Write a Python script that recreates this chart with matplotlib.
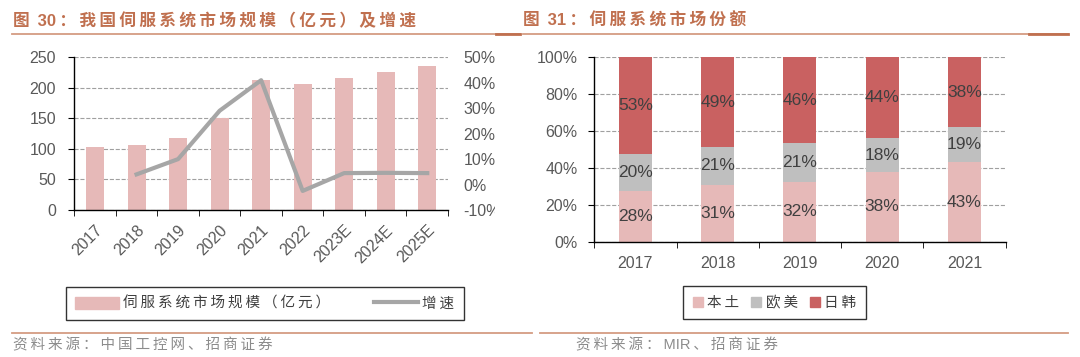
import numpy as np
import matplotlib
matplotlib.use('Agg')
import matplotlib.pyplot as plt
from matplotlib.lines import Line2D
from matplotlib.patches import Patch
from matplotlib.transforms import Bbox

plt.rcParams['font.family'] = ['Liberation Sans', 'Noto Sans CJK SC', 'DejaVu Sans']

# left chart: market size (100m CNY) and growth
years_left = ['2017', '2018', '2019', '2020', '2021', '2022', '2023E', '2024E', '2025E']
market_size = [103, 107, 118, 150, 213, 207, 216, 226, 236]
growth = [None, 0.04, 0.10, 0.29, 0.41, -0.025, 0.045, 0.046, 0.045]

# right chart: market share
years_right = ['2017', '2018', '2019', '2020', '2021']
share_local = [28, 31, 32, 38, 43]
share_west = [20, 21, 21, 18, 19]
share_jpkr = [53, 49, 46, 44, 38]

PINK = '#e6b9b8'
GREY = '#bfbfbf'
RED = '#c96161'
LINE = '#a6a6a6'
TXT = '#595959'
TITLE = '#c0704f'
RULE = '#d49c82'
TS = 11.5  # tick label size


def spaced(s):
    # the report sets CJK text with a little extra tracking
    out = ''
    for i, ch in enumerate(s):
        out += ch
        if i < len(s) - 1 and (ord(ch) > 127 or ord(s[i + 1]) > 127) and ch != ' ':
            out += '\u2009'
    return out


def style_axis(ax, n, ypad):
    ax.spines['top'].set_visible(False)
    ax.spines['right'].set_visible(False)
    ax.set_xlim(-0.5, n - 0.5)
    ax.set_xticks(np.arange(n))
    ax.set_xticks(np.arange(n + 1) - 0.5, minor=True)
    ax.tick_params(axis='x', which='major', length=0, colors=TXT, labelsize=TS)
    ax.tick_params(axis='x', which='minor', length=4, direction='out', color='black')
    ax.tick_params(axis='y', length=4, direction='out', color='black',
                   labelcolor=TXT, labelsize=TS, pad=ypad)
    ax.grid(axis='y', linestyle='--', color='#a0a0a0', linewidth=0.8)
    ax.set_axisbelow(True)
    for s in ('left', 'bottom'):
        ax.spines[s].set_color('black')
        ax.spines[s].set_linewidth(1.0)


fig = plt.figure(figsize=(10.8, 3.57), dpi=100)
W, H = 1080, 357

# ---- left chart ----
ax1 = fig.add_axes([74.3 / W, 1 - 210 / H, (448 - 74.3) / W, (210 - 57.3) / H])
x1 = np.arange(len(years_left))
ax1.bar(x1, market_size, width=0.43, color=PINK, zorder=2)
style_axis(ax1, len(years_left), 9)
ax1.set_ylim(0, 250)
ax1.set_yticks(range(0, 251, 50))
ax1.set_xticklabels(years_left, rotation=45, ha='right', va='top', rotation_mode='anchor')
ax1.tick_params(axis='x', which='major', pad=9)

ax2 = ax1.twinx()
gx = [i for i, g in enumerate(growth) if g is not None]
gy = [g for g in growth if g is not None]
ax2.plot(gx, gy, color=LINE, linewidth=3, zorder=3)
ax2.set_ylim(-0.1, 0.5)
ax2.set_yticks(np.arange(-0.1, 0.51, 0.1))
ax2.set_yticklabels(['-10%', '0%', '10%', '20%', '30%', '40%', '50%'])
for s in ('top', 'right', 'left', 'bottom'):
    ax2.spines[s].set_visible(False)
ax2.tick_params(axis='y', length=0, pad=11, labelcolor=TXT, labelsize=TS)
clip = Bbox.from_extents(0, 0, 495, H)
for lab in ax2.get_yticklabels():
    lab.set_clip_on(True)
    lab.set_clip_box(clip)

leg1 = fig.legend(
    handles=[Patch(color=PINK, label=spaced('伺服系统市场规模（亿元）')),
             Line2D([], [], color=LINE, linewidth=3, label=spaced('增速'))],
    loc='center', bbox_to_anchor=(265 / W, 1 - 303.7 / H), ncol=2,
    frameon=True, fancybox=False, edgecolor='black', fontsize=10.5,
    handlelength=3.0, handleheight=0.9, columnspacing=3.0, borderpad=0.65,
    handletextpad=0.3)
leg1.get_frame().set_linewidth(1.0)
for t in leg1.get_texts():
    t.set_color('#404040')

# ---- right chart ----
ax3 = fig.add_axes([594.3 / W, 1 - 241.7 / H, (1005.6 - 594.3) / W, (241.7 - 57.3) / H])
x3 = np.arange(len(years_right))
local = np.array(share_local, dtype=float)
west = np.array(share_west, dtype=float)
jpkr = np.array(share_jpkr, dtype=float)
total = local + west + jpkr
p_local = local / total
p_west = west / total
p_jpkr = jpkr / total
ax3.bar(x3, p_local, width=0.4, color=PINK, zorder=2)
ax3.bar(x3, p_west, width=0.4, bottom=p_local, color=GREY, zorder=2)
ax3.bar(x3, p_jpkr, width=0.4, bottom=p_local + p_west, color=RED, zorder=2)
style_axis(ax3, len(years_right), 8)
ax3.set_ylim(0, 1)
ax3.set_yticks(np.arange(0, 1.01, 0.2))
ax3.set_yticklabels(['0%', '20%', '40%', '60%', '80%', '100%'])
ax3.set_xticklabels(years_right)
ax3.tick_params(axis='x', which='major', pad=10)

for i in range(len(years_right)):
    bottoms = [0, p_local[i], p_local[i] + p_west[i]]
    heights = [p_local[i], p_west[i], p_jpkr[i]]
    vals = [share_local[i], share_west[i], share_jpkr[i]]
    for b, h, v in zip(bottoms, heights, vals):
        ax3.text(i, b + h / 2, f'{v}%', ha='center', va='center',
                 fontsize=12.5, color='#404040', zorder=4)

leg2 = fig.legend(
    handles=[Patch(color=PINK, label=spaced('本土')), Patch(color=GREY, label=spaced('欧美')),
             Patch(color=RED, label=spaced('日韩'))],
    loc='center', bbox_to_anchor=(774.5 / W, 1 - 302.9 / H), ncol=3,
    frameon=True, fancybox=False, edgecolor='black', fontsize=10.5,
    handlelength=0.7, handleheight=0.7, columnspacing=0.8, borderpad=0.65,
    handletextpad=0.3)
leg2.get_frame().set_linewidth(1.0)
for t in leg2.get_texts():
    t.set_color('#404040')

# ---- titles, rules, sources ----
fig.text(13 / W, 1 - 21 / H, spaced('图 30：我国伺服系统市场规模（亿元）及增速'), color=TITLE,
         fontsize=12, fontweight='bold', va='center', ha='left')
fig.text(523 / W, 1 - 21 / H, spaced('图 31：伺服系统市场份额'), color=TITLE,
         fontsize=12, fontweight='bold', va='center', ha='left')

y_top = 1 - 34.4 / H
fig.add_artist(Line2D([12 / W, 520 / W], [y_top, y_top], color=RULE, linewidth=1.3))
fig.add_artist(Line2D([496 / W, 520 / W], [y_top, y_top], color=TITLE, linewidth=2))
fig.add_artist(Line2D([523 / W, 1068 / W], [y_top, y_top], color=RULE, linewidth=1.3))
fig.add_artist(Line2D([1029 / W, 1068 / W], [y_top, y_top], color=TITLE, linewidth=2))

y_bot = 1 - 332.5 / H
fig.add_artist(Line2D([12 / W, 532 / W], [y_bot, y_bot], color=RULE, linewidth=1.3))
fig.add_artist(Line2D([540 / W, 1068 / W], [y_bot, y_bot], color=RULE, linewidth=1.3))

fig.text(13 / W, 1 - 345.5 / H, spaced('资料来源：中国工控网、招商证券'), color='#8c8c8c',
         fontsize=10.5, va='center', ha='left')
fig.text(576 / W, 1 - 345 / H, spaced('资料来源：MIR、招商证券'), color='#8c8c8c',
         fontsize=10.5, va='center', ha='left')

fig.savefig('out.png', dpi=100)
